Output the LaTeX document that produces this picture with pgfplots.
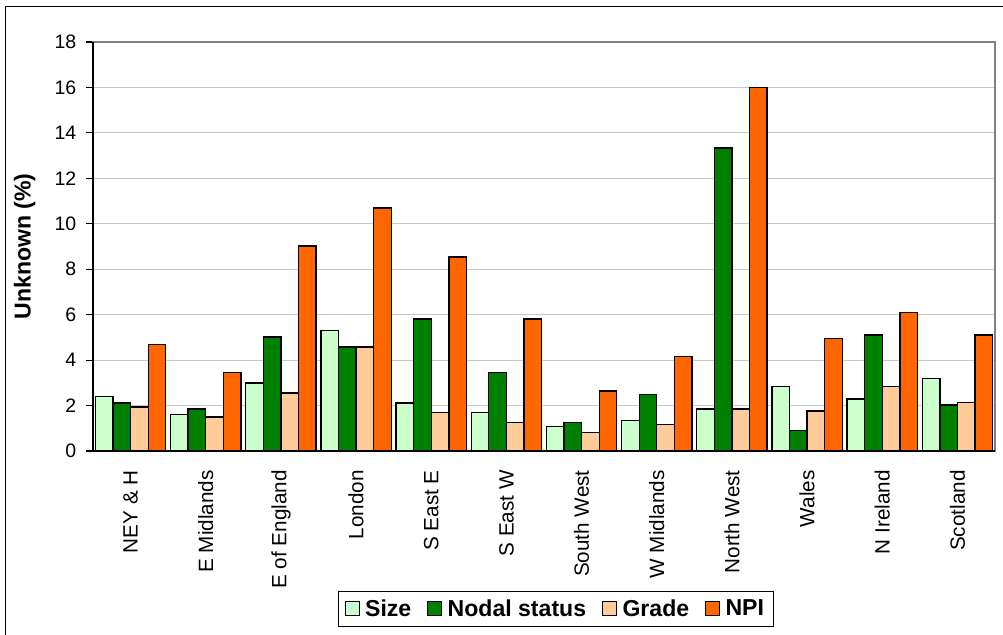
\documentclass[border=0pt]{standalone}
\usepackage{fontspec}
\setmainfont{Liberation Sans}
\usepackage{pgfplots}
\pgfplotsset{compat=1.18}
\definecolor{cSize}{HTML}{CCFFCC}
\definecolor{cNodal}{HTML}{008000}
\definecolor{cGrade}{HTML}{FFCC99}
\definecolor{cNPI}{HTML}{FF6600}
\begin{document}
\begin{tikzpicture}[x=0.75pt,y=0.75pt]
\useasboundingbox (0,0) rectangle (1003,635);
\draw[line width=1.4pt,black] (5.5,0) -- (5.5,628.5) -- (1003,628.5);
\begin{axis}[
  at={(69.75pt,138pt)}, anchor=south west,
  scale only axis, width=676.5pt, height=306.75pt,
  xmin=-0.5, xmax=11.5, ymin=0, ymax=18,
  ytick={0,2,...,18},
  ytick pos=left,
  xtick={0,...,11},
  xticklabels={NEY \& H, E Midlands, E of England, London, S East E, S East W, South West, W Midlands, North West, Wales, N Ireland, Scotland},
  xtick style={draw=none},
  extra x ticks={-0.5,0.5,...,11.5},
  extra x tick labels={},
  extra x tick style={grid=none, xtick pos=bottom, major tick length=5pt, tick align=outside, tick style={draw=black!70, line width=0.8pt}},
  ytick style={draw=black, line width=0.8pt},
  tick align=outside, major tick length=5pt,
  ymajorgrids, grid style={draw=black!22, line width=0.8pt},
  axis line style={draw=black!50, line width=1.2pt},
  yticklabel style={font=\fontsize{14.6}{16}\selectfont, xshift=-4pt},
  /pgf/number format/assume math mode=true,
  xticklabel style={font=\fontsize{15.5}{17}\selectfont, rotate=90, anchor=east, yshift=0pt, xshift=-6pt},
  ylabel={\textbf{Unknown (\%)}},
  ylabel style={font=\fontsize{17.3}{19}\selectfont, at={(axis description cs:-0.0759,0.5)}, anchor=center},
  clip=false,
  legend columns=-1,
  legend style={at={(0.513,-0.3856)}, anchor=center, draw=black, line width=0.8pt,
    font=\fontsize{17.3}{19}\selectfont\bfseries, inner xsep=5pt, inner ysep=4pt,
    /tikz/every odd column/.append style={column sep=2pt},
    /tikz/every even column/.append style={column sep=10pt}},
  legend image code/.code={\draw[#1, draw=black, line width=0.8pt] (0pt,-5pt) rectangle (10.5pt,5.5pt);},
  every axis plot/.append style={ybar, bar width=0.234, draw=black, line width=1pt},
]
\addplot[fill=cSize, bar shift=-0.351] coordinates {(0,2.39) (1,1.60) (2,2.99) (3,5.29) (4,2.11) (5,1.69) (6,1.07) (7,1.33) (8,1.85) (9,2.83) (10,2.29) (11,3.18)};
\addplot[fill=cNodal, bar shift=-0.117] coordinates {(0,2.11) (1,1.85) (2,5.01) (3,4.57) (4,5.81) (5,3.45) (6,1.25) (7,2.48) (8,13.33) (9,0.89) (10,5.10) (11,2.02)};
\addplot[fill=cGrade, bar shift=0.117] coordinates {(0,1.94) (1,1.50) (2,2.55) (3,4.57) (4,1.69) (5,1.25) (6,0.81) (7,1.16) (8,1.85) (9,1.76) (10,2.83) (11,2.13)};
\addplot[fill=cNPI, bar shift=0.351] coordinates {(0,4.68) (1,3.45) (2,9.02) (3,10.70) (4,8.54) (5,5.81) (6,2.64) (7,4.15) (8,16.0) (9,4.94) (10,6.10) (11,5.10)};
\legend{Size, Nodal status, Grade, NPI}
\draw[black, line width=1.2pt] (rel axis cs:0,1) -- (rel axis cs:0,0) -- (rel axis cs:1,0);
\end{axis}
\end{tikzpicture}
\end{document}
